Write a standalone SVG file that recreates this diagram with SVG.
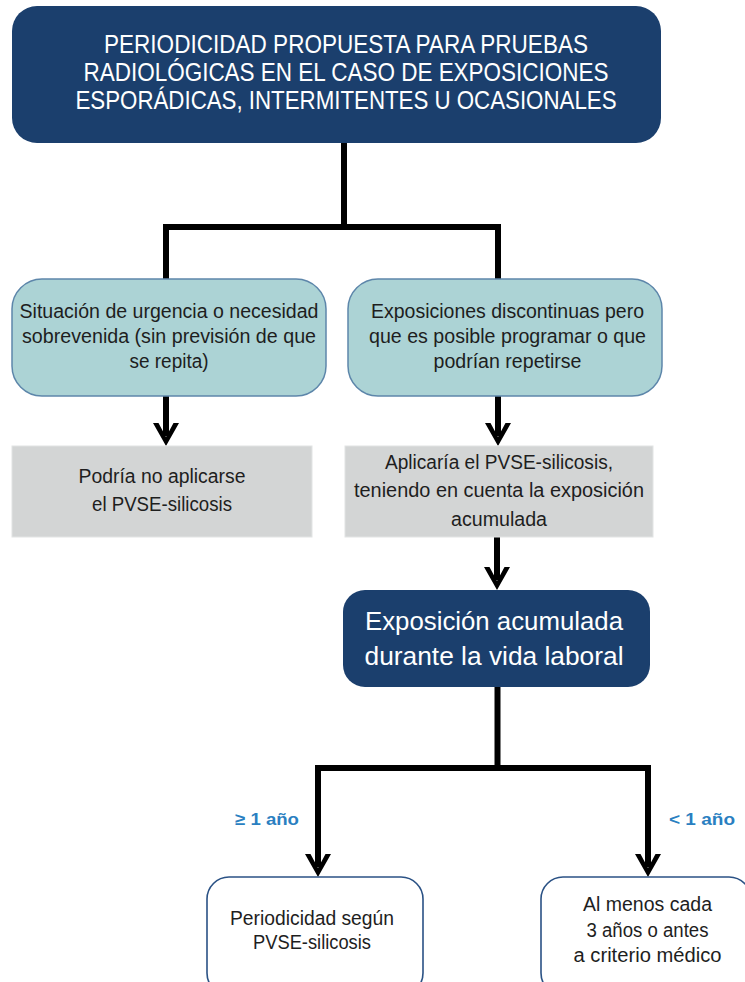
<svg xmlns="http://www.w3.org/2000/svg" width="745" height="982" viewBox="0 0 745 982">
  <style>
    .dark { fill: #1b3f6d; }
    .teal { fill: #acd3d5; stroke: #5d86aa; stroke-width: 1.5; }
    .grey { fill: #d3d5d5; stroke: #e2e4e4; stroke-width: 1; }
    .outl { fill: #ffffff; stroke: #2b5285; stroke-width: 1.6; }
    .wt { font-family: "Liberation Sans", "Open Sans", sans-serif; fill: #ffffff; text-anchor: middle; }
    .bt { font-family: "Liberation Sans", "Open Sans", sans-serif; fill: #1e1e1e; text-anchor: middle; font-size: 20px; }
    .lbl { font-family: "Liberation Sans", "Open Sans", sans-serif; fill: #2a7fc1; font-weight: bold; font-size: 17px; text-anchor: middle; }
    .ln { stroke: #000000; stroke-width: 6; fill: none; }
    .hd { fill: #000000; }
  </style>
  <defs>
    <path id="head" d="M -13,-23 L -7.5,-23 L 0,-9 L 7.5,-23 L 13,-23 L 0,0 Z"/>
  </defs>

  <g id="connectors">
    <path class="ln" d="M 344,143 L 344,227"/>
    <path class="ln" d="M 163,227 L 501,227"/>
    <path class="ln" d="M 166,224 L 166,280"/>
    <path class="ln" d="M 498,224 L 498,280"/>
    <path class="ln" d="M 166,396 L 166,436"/>
    <use href="#head" class="hd" x="166" y="446"/>
    <path class="ln" d="M 498,396 L 498,436"/>
    <use href="#head" class="hd" x="498" y="446"/>
    <path class="ln" d="M 497,537 L 497,580"/>
    <use href="#head" class="hd" x="497" y="590"/>
    <path class="ln" d="M 497.5,687 L 497.5,768"/>
    <path class="ln" d="M 315,768 L 651,768"/>
    <path class="ln" d="M 318,765 L 318,867"/>
    <use href="#head" class="hd" x="318" y="877"/>
    <path class="ln" d="M 648,765 L 648,867"/>
    <use href="#head" class="hd" x="648" y="877"/>
    <text class="lbl" x="267" y="825" textLength="64" lengthAdjust="spacingAndGlyphs">≥ 1 año</text>
    <text class="lbl" x="702" y="825" textLength="66" lengthAdjust="spacingAndGlyphs">&lt; 1 año</text>
  </g>

  <g id="title">
    <rect class="dark" x="12" y="6" width="649" height="137" rx="25"/>
    <text class="wt" font-size="25" x="346" y="53" textLength="484" lengthAdjust="spacingAndGlyphs">PERIODICIDAD PROPUESTA PARA PRUEBAS</text>
    <text class="wt" font-size="25" x="346" y="81" textLength="525" lengthAdjust="spacingAndGlyphs">RADIOLÓGICAS EN EL CASO DE EXPOSICIONES</text>
    <text class="wt" font-size="25" x="346" y="109" textLength="541" lengthAdjust="spacingAndGlyphs">ESPORÁDICAS, INTERMITENTES U OCASIONALES</text>
  </g>

  <g id="urgencia">
    <rect class="teal" x="12" y="279" width="314" height="117" rx="30"/>
    <text class="bt" x="169" y="318" textLength="299" lengthAdjust="spacingAndGlyphs">Situación de urgencia o necesidad</text>
    <text class="bt" x="169" y="343" textLength="294" lengthAdjust="spacingAndGlyphs">sobrevenida (sin previsión de que</text>
    <text class="bt" x="169" y="368" textLength="79" lengthAdjust="spacingAndGlyphs">se repita)</text>
  </g>

  <g id="discontinuas">
    <rect class="teal" x="348" y="279" width="314" height="117" rx="30"/>
    <text class="bt" x="507.5" y="318" textLength="273" lengthAdjust="spacingAndGlyphs">Exposiciones discontinuas pero</text>
    <text class="bt" x="507.5" y="343" textLength="277" lengthAdjust="spacingAndGlyphs">que es posible programar o que</text>
    <text class="bt" x="507.5" y="368" textLength="148" lengthAdjust="spacingAndGlyphs">podrían repetirse</text>
  </g>

  <g id="no-aplicar">
    <rect class="grey" x="12" y="446" width="300" height="91"/>
    <text class="bt" x="162" y="483" textLength="167" lengthAdjust="spacingAndGlyphs">Podría no aplicarse</text>
    <text class="bt" x="162" y="511" textLength="140" lengthAdjust="spacingAndGlyphs">el PVSE-silicosis</text>
  </g>

  <g id="aplicaria">
    <rect class="grey" x="345" y="446" width="308" height="91"/>
    <text class="bt" x="499" y="469" textLength="228" lengthAdjust="spacingAndGlyphs">Aplicaría el PVSE-silicosis,</text>
    <text class="bt" x="499" y="497" textLength="290" lengthAdjust="spacingAndGlyphs">teniendo en cuenta la exposición</text>
    <text class="bt" x="499" y="526" textLength="96" lengthAdjust="spacingAndGlyphs">acumulada</text>
  </g>

  <g id="acumulada">
    <rect class="dark" x="343" y="590" width="307" height="97" rx="22"/>
    <text class="wt" font-size="26" x="494" y="630" textLength="258" lengthAdjust="spacingAndGlyphs">Exposición acumulada</text>
    <text class="wt" font-size="26" x="494" y="665" textLength="259" lengthAdjust="spacingAndGlyphs">durante la vida laboral</text>
  </g>

  <g id="segun-pvse">
    <rect class="outl" x="207" y="877" width="216" height="118" rx="22"/>
    <text class="bt" x="312" y="925" textLength="164" lengthAdjust="spacingAndGlyphs">Periodicidad según</text>
    <text class="bt" x="312" y="949" textLength="118" lengthAdjust="spacingAndGlyphs">PVSE-silicosis</text>
  </g>

  <g id="cada-3-anos">
    <rect class="outl" x="541" y="877" width="210" height="118" rx="22"/>
    <text class="bt" x="647.5" y="911" textLength="129" lengthAdjust="spacingAndGlyphs">Al menos cada</text>
    <text class="bt" x="647.5" y="937" textLength="122" lengthAdjust="spacingAndGlyphs">3 años o antes</text>
    <text class="bt" x="647.5" y="962" textLength="148" lengthAdjust="spacingAndGlyphs">a criterio médico</text>
  </g>
</svg>
